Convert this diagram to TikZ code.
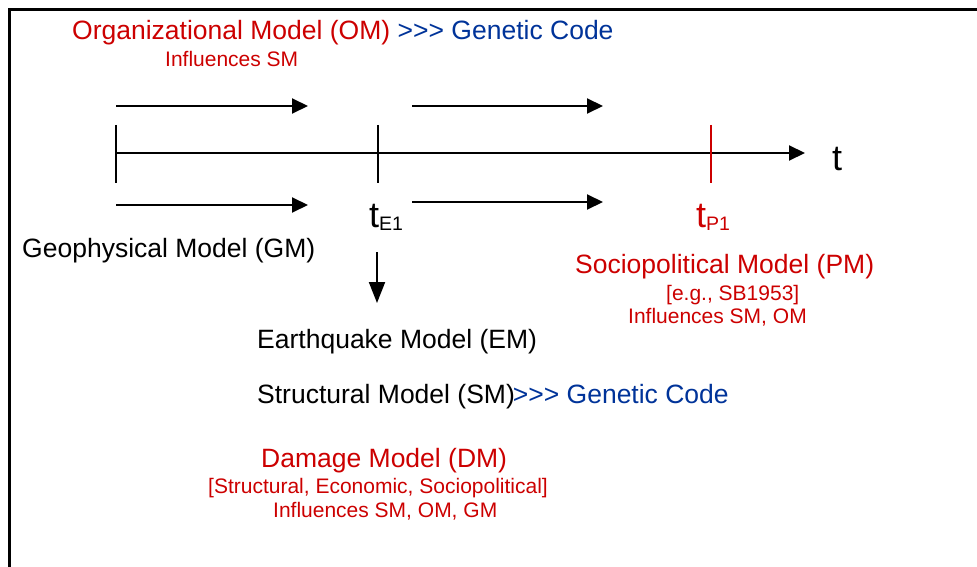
\documentclass[tikz,border=0pt]{standalone}
\usepackage{fontspec}
\setmainfont{Liberation Sans}
\usepackage{xcolor}
\usepackage{tikz}
\usetikzlibrary{arrows.meta}
\definecolor{ink}{HTML}{000000}
\definecolor{model}{HTML}{CC0000}
\definecolor{code}{HTML}{003399}
\newcommand{\tsub}[1]{\raisebox{-3pt}{\fontsize{19.5}{20}\selectfont #1}}
\newcommand{\threegt}{>\kern0pt>\kern0pt>}
\tikzset{
  frame/.style={draw=ink, line width=2.5pt},
  axis/.style={draw=ink, line width=2pt, -{Triangle[length=16pt,width=15pt]}},
  flow/.style={draw=ink, line width=2pt, -{Triangle[length=16pt,width=15pt]}},
  drop/.style={draw=ink, line width=2pt, -{Triangle[length=21pt,width=16pt]}},
  tick/.style={line width=2pt},
  big/.style={anchor=base west, inner sep=0pt, font=\fontsize{26.5}{30}\selectfont},
  small/.style={anchor=base west, inner sep=0pt, font=\fontsize{21}{24}\selectfont},
  tlab/.style={anchor=base west, inner sep=0pt, font=\fontsize{36}{40}\selectfont},
}

\begin{document}
\begin{tikzpicture}[x=1pt,y=-1pt]
  \useasboundingbox (0,0) rectangle (977,567);
  \draw[frame] (977,9.3) -- (9.3,9.3) -- (9.3,567);

  % time axis and its marks
  \coordinate (t0) at (116,153);
  \coordinate (t1) at (805,153);
  \draw[axis] (t0) -- (t1);
  \node[tlab] (tax) at (832,170) {t};
  \foreach \X/\x/\c in {a/116/ink,e/378/ink,p/711/model}{
    \coordinate (\X top) at (\x,125);
    \coordinate (\X bot) at (\x,183);
    \draw[tick,draw=\c] (\X top) -- (\X bot);
  }

  % model arrows
  \coordinate (u1a) at (116,106);
  \coordinate (u1b) at (308,106);
  \coordinate (u2a) at (412,106);
  \coordinate (u2b) at (603,106);
  \coordinate (l1a) at (116,205);
  \coordinate (l1b) at (308,205);
  \coordinate (l2a) at (412,202);
  \coordinate (l2b) at (603,202);
  \foreach \s/\e in {u1a/u1b,u2a/u2b,l1a/l1b,l2a/l2b}{
    \draw[flow] (\s) -- (\e);
  }
  \coordinate (da) at (377,252);
  \coordinate (db) at (377,303);
  \draw[drop] (da) -- (db);

  \node[big] (om) at (72,40) {\color{model}Organizational Model (OM) \color{code}\threegt{} Genetic Code};
  \node[small,text=model] (omnote) at (165,67) {Influences SM};

  \node[big] (gm) at (22,257) {Geophysical Model (GM)};
  \node[tlab] (te) at (369,227) {t\tsub{E1}};
  \node[tlab,text=model] (tp) at (696,227) {t\tsub{P1}};

  \node[big,text=model] (pm) at (575,273) {Sociopolitical Model (PM)};
  \node[small,text=model] (pmex) at (666,300) {[e.g., SB1953]};
  \node[small,text=model] (pmnote) at (628,323) {Influences SM, OM};

  \node[big] (em) at (257,348) {Earthquake Model (EM)};
  \node[big] (sm) at (257,403) {Structural Model (SM)\kern-2pt\color{code}\threegt{} Genetic Code};

  \node[big,text=model] (dm) at (261,467) {Damage Model (DM)};
  \node[small,text=model] (dmkind) at (208,493) {[Structural, Economic, Sociopolitical]};
  \node[small,text=model] (dmnote) at (273,517) {Influences SM, OM, GM};
\end{tikzpicture}
\end{document}
